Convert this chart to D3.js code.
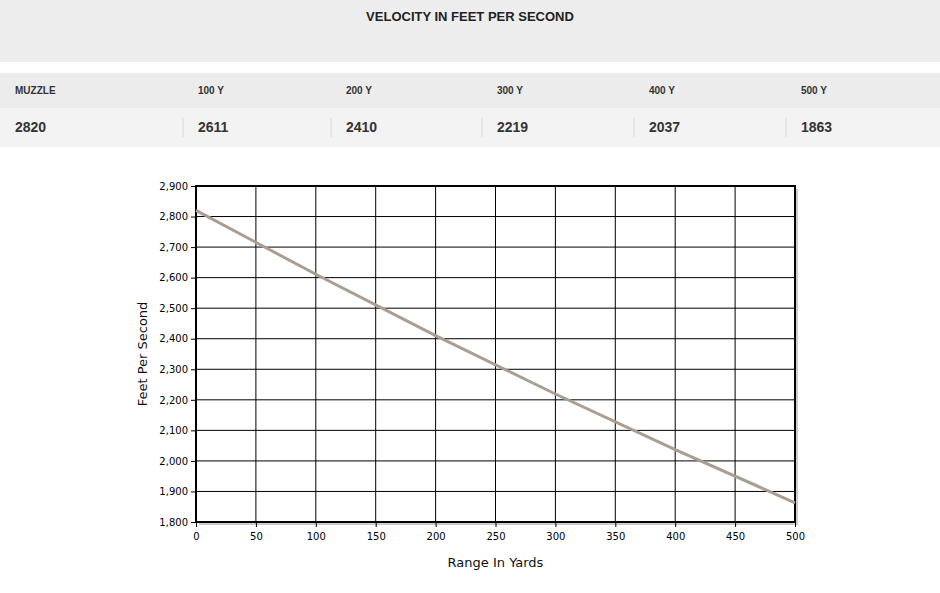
<!DOCTYPE html>
<html><head><meta charset="utf-8">
<script src="https://cdn.jsdelivr.net/npm/d3@7"></script>
<style>
body{margin:0;background:#fff;font-family:"Liberation Sans",Arial,sans-serif;}
</style></head>
<body><svg id="chart" width="940" height="593"></svg>
<script>
const headers = ["MUZZLE", "100 Y", "200 Y", "300 Y", "400 Y", "500 Y"];
const ranges = [0, 100, 200, 300, 400, 500];
const velocities = [2820, 2611, 2410, 2219, 2037, 1863];
const xTicks = [0, 50, 100, 150, 200, 250, 300, 350, 400, 450, 500];
const yTicks = [1800, 1900, 2000, 2100, 2200, 2300, 2400, 2500, 2600, 2700, 2800, 2900];

const svg = d3.select("#chart");

// header table
svg.append("rect").attr("x", 0).attr("y", 0).attr("width", 940).attr("height", 62).attr("fill", "#ededed");
svg.append("text").attr("x", 470).attr("y", 21).attr("text-anchor", "middle")
  .style("font-size", "13px").style("font-weight", "bold").attr("fill", "#222")
  .text("VELOCITY IN FEET PER SECOND");
svg.append("rect").attr("x", 0).attr("y", 73).attr("width", 940).attr("height", 35).attr("fill", "#ececec");
svg.append("rect").attr("x", 0).attr("y", 108).attr("width", 940).attr("height", 39).attr("fill", "#f3f3f3");

const colX = [15, 198, 346, 497, 649, 801];
headers.forEach((h, i) => {
  svg.append("text").attr("x", colX[i]).attr("y", 94)
    .style("font-size", "10px").style("font-weight", "bold").attr("fill", "#333").text(h);
  svg.append("text").attr("x", colX[i]).attr("y", 132)
    .style("font-size", "14px").style("font-weight", "bold").attr("fill", "#333").text(velocities[i]);
  if (i > 0) {
    svg.append("line").attr("x1", colX[i] - 15).attr("x2", colX[i] - 15)
      .attr("y1", 118).attr("y2", 137).attr("stroke", "#d8d8d8");
  }
});

// chart
const mLeft = 196, mRight = 795, mTop = 186, mBottom = 522;
const x = d3.scaleLinear().domain([0, 500]).range([mLeft, mRight]);
const y = d3.scaleLinear().domain([1800, 2900]).range([mBottom, mTop]);

// shadow
svg.append("rect").attr("x", mLeft + 3).attr("y", mTop + 3).attr("width", mRight - mLeft).attr("height", mBottom - mTop)
  .attr("fill", "#ccc");
svg.append("rect").attr("x", mLeft).attr("y", mTop).attr("width", mRight - mLeft).attr("height", mBottom - mTop)
  .attr("fill", "#fff");

// grid
svg.append("g").selectAll("line").data(xTicks).enter().append("line")
  .attr("x1", d => x(d)).attr("x2", d => x(d)).attr("y1", mTop).attr("y2", mBottom)
  .attr("stroke", "#000").attr("stroke-width", 1);
svg.append("g").selectAll("line").data(yTicks).enter().append("line")
  .attr("x1", mLeft).attr("x2", mRight).attr("y1", d => y(d)).attr("y2", d => y(d))
  .attr("stroke", "#000").attr("stroke-width", 1);

svg.append("rect").attr("x", mLeft).attr("y", mTop).attr("width", mRight - mLeft).attr("height", mBottom - mTop)
  .attr("fill", "none").attr("stroke", "#000").attr("stroke-width", 2);

// axes
const xAxis = svg.append("g").attr("transform", `translate(0,${mBottom})`)
  .call(d3.axisBottom(x).tickValues(xTicks).tickSize(5).tickSizeOuter(0).tickPadding(6));
const yAxis = svg.append("g").attr("transform", `translate(${mLeft},0)`)
  .call(d3.axisLeft(y).tickValues(yTicks).tickSize(5).tickSizeOuter(0).tickPadding(3));
[xAxis, yAxis].forEach(g => {
  g.select(".domain").remove();
  g.selectAll("text").style("font-size", "10px").attr("fill", "#000")
    .style("font-family", "'DejaVu Sans',sans-serif");
  g.selectAll("line").attr("stroke", "#000");
});

// line
svg.append("path").datum(ranges.map((r, i) => [r, velocities[i]]))
  .attr("fill", "none").attr("stroke", "#a89e91").attr("stroke-width", 3)
  .attr("d", d3.line().x(d => x(d[0])).y(d => y(d[1])));

// axis titles
svg.append("text").attr("x", (mLeft + mRight) / 2).attr("y", 567).attr("text-anchor", "middle")
  .style("font-size", "13px").style("font-family", "'DejaVu Sans',sans-serif").attr("fill", "#111")
  .text("Range In Yards");
svg.append("text").attr("transform", `translate(147,${(mTop + mBottom) / 2}) rotate(-90)`)
  .attr("text-anchor", "middle").style("font-size", "13px")
  .style("font-family", "'DejaVu Sans',sans-serif").attr("fill", "#111")
  .text("Feet Per Second");
</script></body></html>
